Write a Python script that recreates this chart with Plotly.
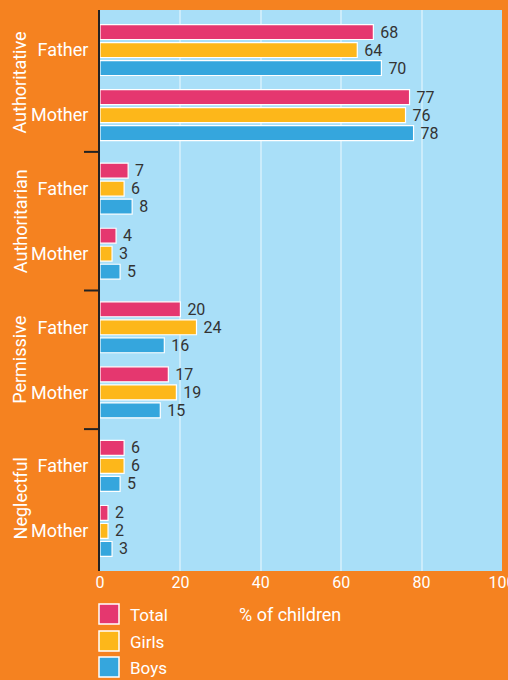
'''Parenting style by parent, % of children - horizontal grouped bars'''
import plotly.graph_objects as go

# data
styles = ['Authoritative', 'Authoritarian', 'Permissive', 'Neglectful']
parents = ['Father', 'Mother']
total = [68, 77, 7, 4, 20, 17, 6, 2]
girls = [64, 76, 6, 3, 24, 19, 6, 2]
boys = [70, 78, 8, 5, 16, 15, 5, 3]
x_ticks = [0, 20, 40, 60, 80, 100]

series = [('Total', total, '#E5376F'), ('Girls', girls, '#FDB71A'), ('Boys', boys, '#35A6DD')]

# layout constants
W, H = 508, 680
ML, MR, MT, MB = 100, 6, 10, 109
ORANGE = '#F58220'
PANEL = '#A9DFF8'
STEP = 2.13  # distance between style groups (1 = father->mother)

def px_x(p):
    # pixel column -> paper x
    return (p - ML) / (W - ML - MR)

def px_y(p):
    # pixel row -> paper y
    return (H - MB - p) / (H - MT - MB)

ypos = [g * STEP + p for g in range(len(styles)) for p in range(len(parents))]
ylabels = [p for _ in styles for p in parents]

fig = go.Figure()

for name, vals, col in series:
    fig.add_trace(go.Bar(
        x=vals, y=ypos, orientation='h', name=name,
        marker=dict(color=col, line=dict(color='white', width=1.2)),
        texttemplate=' %{x}', textposition='outside', constraintext='none',
        textfont=dict(color='#333333', size=16),
        cliponaxis=False, showlegend=False, hoverinfo='x+name'
    ))

# style group labels (rotated) and divider ticks
for g, s in enumerate(styles):
    fig.add_annotation(
        x=px_x(20), xref='paper', y=g * STEP + 0.5, yref='y',
        text=s, textangle=-90, showarrow=False,
        font=dict(color='white', size=18), xanchor='center', yanchor='middle'
    )
    if g < len(styles) - 1:
        fig.add_shape(type='line', xref='paper', yref='y',
                      x0=px_x(84), x1=0, y0=g * STEP + 1.565, y1=g * STEP + 1.565,
                      line=dict(color='#222222', width=2))

fig.add_annotation(
    x=px_x(290), xref='paper', y=px_y(614), yref='paper', text='% of children',
    showarrow=False, font=dict(color='white', size=18), xanchor='center', yanchor='middle'
)

# hand-made legend with big swatches under the axis
legend_rows = [614, 641, 667]
for (name, vals, col), row in zip(series, legend_rows):
    fig.add_shape(type='rect', xref='paper', yref='paper',
                  x0=px_x(99), x1=px_x(119), y0=px_y(row - 10), y1=px_y(row + 10),
                  fillcolor=col, line=dict(color='white', width=1.5))
    fig.add_annotation(
        x=px_x(128), xref='paper', y=px_y(row + 1), yref='paper', text=name,
        showarrow=False, font=dict(color='white', size=17), xanchor='left', yanchor='middle'
    )

top = -0.615
bottom = (len(styles) - 1) * STEP + 1 + 0.615

fig.update_layout(
    width=W, height=H,
    margin=dict(l=ML, r=MR, t=MT, b=MB),
    paper_bgcolor=ORANGE, plot_bgcolor=PANEL,
    barmode='group', bargap=0.17, bargroupgap=0.17,
    font=dict(family='Roboto, sans-serif', color='white'),
    xaxis=dict(
        range=[0, 100], tickvals=x_ticks, showgrid=True,
        gridcolor='rgba(255,255,255,0.4)', gridwidth=1.5, zeroline=False,
        tickfont=dict(size=16, color='white'), automargin=False, fixedrange=True,
        ticklabeloverflow='allow'
    ),
    yaxis=dict(
        range=[bottom, top], tickvals=ypos, ticktext=ylabels,
        showgrid=False, zeroline=False, showline=True,
        linecolor='#222222', linewidth=2, ticks='',
        ticklabelstandoff=6,
        tickfont=dict(size=18, color='white'), automargin=False, fixedrange=True
    ),
    showlegend=False
)

# page has a default body margin, drop it so the figure sits at 0,0
fig.write_html("out.html", config={'displayModeBar': False},
               post_script="document.body.style.margin='0';")
